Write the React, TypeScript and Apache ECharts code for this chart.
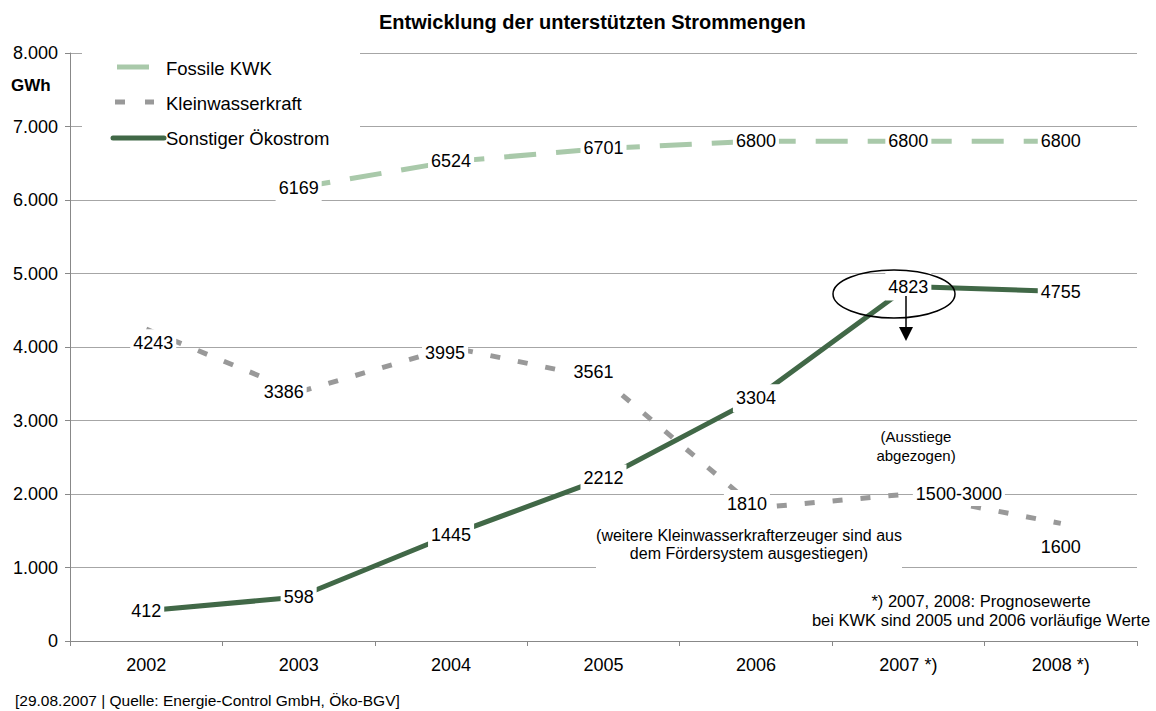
import React, { useEffect, useRef } from "react";
import * as echarts from "echarts";

const years = ["2002", "2003", "2004", "2005", "2006", "2007 *)", "2008 *)"];
const fossileKwk: (number | null)[] = [null, 6169, 6524, 6701, 6800, 6800, 6800];
const kleinwasser = [4243, 3386, 3995, 3561, 1810, 2000, 1600];
const kleinwasserLabels = ["4243", "3386", "3995", "3561", "1810", "1500-3000", "1600"];
const sonstiger = [412, 598, 1445, 2212, 3304, 4823, 4755];
const yMin = 0;
const yMax = 8000;
const yStep = 1000;

const seriesNames = ["Fossile KWK", "Kleinwasserkraft", "Sonstiger Ökostrom"];
const colors = ["#a9c9aa", "#999999", "#416847"];

// label placement (style, not data)
const kleinOffsets: [number, number][] = [
  [7, 14], [-15, 0], [-6, 6], [-10, -7], [-9, -4], [0, 0], [0, 24],
];

const FONT = "'Liberation Sans', Arial, Helvetica, sans-serif";

const labelBase = {
  show: true,
  position: "inside",
  color: "#000",
  fontSize: 18,
  fontFamily: FONT,
  backgroundColor: "#fff",
  padding: [5, 3],
};

const hiddenSymbol = {
  symbol: "circle",
  symbolSize: 1,
  showSymbol: true,
  itemStyle: { color: "rgba(0,0,0,0)" },
};

export default function App() {
  const ref = useRef<HTMLDivElement>(null);
  useEffect(() => {
    if (!ref.current) return;
    const chart = echarts.init(ref.current, undefined, { renderer: "svg" });

    const kleinData = kleinwasser.map((v, i) => {
      const item: any = { value: v };
      if (i === 5) {
        item.label = {
          ...labelBase,
          position: "right",
          distance: 4,
          padding: [3, 3],
          formatter: () => kleinwasserLabels[i],
        };
      } else {
        item.label = { ...labelBase, offset: kleinOffsets[i], formatter: () => kleinwasserLabels[i] };
      }
      return item;
    });

    const txt = (x: number, y: number, text: string, size: number, extra: any = {}) => ({
      type: "text",
      x,
      y,
      z: 30,
      style: {
        text,
        fontSize: size,
        fontFamily: FONT,
        fill: "#000",
        textVerticalAlign: "middle",
        ...extra,
      },
    });

    chart.setOption({
      animation: false,
      backgroundColor: "#fff",
      title: {
        text: "Entwicklung der unterstützten Strommengen",
        left: 379,
        top: 12,
        padding: 0,
        textStyle: { fontSize: 20, fontWeight: "bold", fontFamily: FONT, color: "#000" },
      },
      grid: { left: 70, right: 19, top: 53, bottom: 70 },
      xAxis: {
        type: "category",
        data: years,
        boundaryGap: true,
        axisLine: { lineStyle: { color: "#888", width: 1 } },
        axisTick: { show: true, length: 5, lineStyle: { color: "#888" } },
        axisLabel: { color: "#000", fontSize: 18, fontFamily: FONT, margin: 15 },
      },
      yAxis: {
        type: "value",
        min: yMin,
        max: yMax,
        interval: yStep,
        axisLine: { show: true, lineStyle: { color: "#888", width: 1 } },
        axisTick: { show: true, length: 5, lineStyle: { color: "#888" } },
        splitLine: { lineStyle: { color: "#a6a6a6", width: 1 } },
        axisLabel: {
          color: "#000",
          fontSize: 18,
          fontFamily: FONT,
          margin: 12,
          formatter: (v: number) => (v === 0 ? "0" : `${v / 1000}.000`),
        },
      },
      series: [
        {
          name: seriesNames[0],
          type: "line",
          data: fossileKwk,
          ...hiddenSymbol,
          connectNulls: false,
          lineStyle: { color: colors[0], width: 5, type: [32, 20] },
          label: { ...labelBase },
          z: 2,
        },
        {
          name: seriesNames[1],
          type: "line",
          data: kleinData,
          ...hiddenSymbol,
          lineStyle: { color: colors[1], width: 5, type: [10, 18] },
          label: { ...labelBase },
          z: 3,
        },
        {
          name: seriesNames[2],
          type: "line",
          data: sonstiger,
          ...hiddenSymbol,
          lineStyle: { color: colors[2], width: 5 },
          label: { ...labelBase },
          z: 4,
        },
      ],
      graphic: [
        // legend box
        { type: "rect", z: 10, shape: { x: 82, y: 40, width: 278, height: 112 }, style: { fill: "#fff" } },
        { type: "line", z: 11, shape: { x1: 117, y1: 67, x2: 149, y2: 67 }, style: { stroke: colors[0], lineWidth: 5 } },
        { type: "line", z: 11, shape: { x1: 115, y1: 102, x2: 125, y2: 102 }, style: { stroke: colors[1], lineWidth: 5 } },
        { type: "line", z: 11, shape: { x1: 145, y1: 102, x2: 154, y2: 102 }, style: { stroke: colors[1], lineWidth: 5 } },
        { type: "line", z: 11, shape: { x1: 113, y1: 138, x2: 164, y2: 138 }, style: { stroke: colors[2], lineWidth: 5, lineCap: "round" } },
        txt(166, 68, seriesNames[0], 18.5),
        txt(166, 103, seriesNames[1], 18.5),
        txt(166, 138, seriesNames[2], 18.5),
        txt(11, 85, "GWh", 17, { fontWeight: "bold" }),
        // ellipse + arrow
        { type: "ellipse", z: 30, shape: { cx: 894, cy: 294, rx: 61, ry: 24 }, style: { fill: "none", stroke: "#000", lineWidth: 1.5 } },
        { type: "line", z: 30, shape: { x1: 906, y1: 296, x2: 906, y2: 328 }, style: { stroke: "#000", lineWidth: 1.5 } },
        { type: "polygon", z: 30, shape: { points: [[899, 327], [913, 327], [906, 341]] }, style: { fill: "#000" } },
        txt(916, 446, "(Ausstiege\nabgezogen)", 15, { textAlign: "center", lineHeight: 19 }),
        // note under 2006
        { type: "rect", z: 25, shape: { x: 596, y: 523, width: 306, height: 46 }, style: { fill: "#fff" } },
        txt(749, 544, "(weitere Kleinwasserkrafterzeuger sind aus\ndem Fördersystem ausgestiegen)", 16, { textAlign: "center", lineHeight: 18 }),
        txt(981, 610, "*) 2007, 2008: Prognosewerte\nbei KWK sind 2005 und 2006 vorläufige Werte", 16.5, { textAlign: "center", lineHeight: 19 }),
        // source
        txt(15, 700, "[29.08.2007 | Quelle: Energie-Control GmbH, Öko-BGV]", 15.5),
      ],
    });
    return () => chart.dispose();
  }, []);
  return (
    <div
      ref={ref}
      style={{ position: "absolute", left: 0, top: 0, width: 1156, height: 711, background: "#fff" }}
    />
  );
}
